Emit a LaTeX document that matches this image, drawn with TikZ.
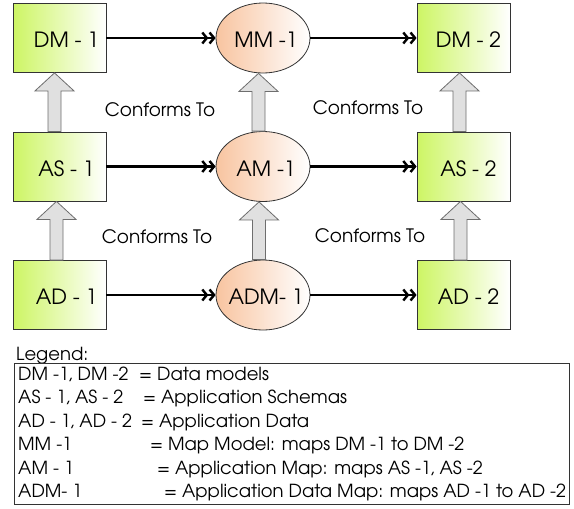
\documentclass[tikz,border=0pt]{standalone}
\usepackage{fontspec}
\setmainfont{texgyreadventor-regular.otf}
\usetikzlibrary{arrows.meta,shapes.geometric,calc}

\definecolor{boxgreen}{RGB}{205,245,100}
\definecolor{mappeach}{RGB}{248,196,160}
\definecolor{fatfill}{RGB}{224,224,224}
\definecolor{fatline}{RGB}{110,110,110}

\tikzset{
  model/.style={draw=black!80, line width=0.8pt, rectangle, minimum width=93pt, minimum height=69pt,
    left color=boxgreen, right color=white, inner sep=0pt},
  mapnode/.style={draw=black!80, line width=0.8pt, ellipse, minimum width=94pt, minimum height=70pt,
    left color=mappeach, right color=white, inner sep=0pt},
  lbl/.style={font=\fontsize{21}{24}\selectfont, inner sep=0pt},
  mapsto/.style={line width=2.4pt, -{Straight Barb[length=4.5pt,width=11pt,line width=2.4pt]Straight Barb[length=4.5pt,width=11pt,line width=2.4pt]}},
  fatarrow/.style={draw=fatline, fill=fatfill, line width=0.8pt, line join=miter},
  conf/.style={font=\fontsize{18.5}{21}\selectfont},
  legendtext/.style={anchor=base west, font=\fontsize{18}{21}\selectfont, inner sep=0pt},
}

% fat upward arrow from the top of #1 to the bottom of #2, shifted by #3
\newcommand\fatup[3]{%
  \path[fatarrow] let \p1=($(#1.north)+(#3,0)$), \p2=($(#2.south)+(#3,0)$) in
    (\x1-6.5pt,\y1) -- (\x1-6.5pt,\y2-18pt) -- (\x1-19.5pt,\y2-18pt) -- (\x1,\y2)
    -- (\x1+19.5pt,\y2-18pt) -- (\x1+6.5pt,\y2-18pt) -- (\x1+6.5pt,\y1) -- cycle;}

\begin{document}
\begin{tikzpicture}[x=1pt,y=-1pt]
\useasboundingbox (0,0) rectangle (574,509);

% model boxes and map ellipses
\node[model] (dm1) at (59.5,38) {};
\node[model] (as1) at (59.5,166.5) {};
\node[model] (ad1) at (59.5,295) {};
\node[model] (dm2) at (463.5,38) {};
\node[model] (as2) at (463.5,166.5) {};
\node[model] (ad2) at (463.5,295) {};
\node[mapnode] (mm) at (263,38) {};
\node[mapnode] (am) at (263,166.5) {};
\node[mapnode] (adm) at (263,295) {};

\node[lbl] at ($(dm1)+(7,2)$) {DM - 1};
\node[lbl] at ($(as1)+(7,2)$) {AS - 1};
\node[lbl] at ($(ad1)+(7,2)$) {AD - 1};
\node[lbl] at ($(dm2)+(5,2)$) {DM - 2};
\node[lbl] at ($(as2)+(5,2)$) {AS - 2};
\node[lbl] at ($(ad2)+(5,2)$) {AD - 2};
\node[lbl] at ($(mm)+(3,2)$) {MM -1};
\node[lbl] at ($(am)+(3,2)$) {AM -1};
\node[lbl] at ($(adm)+(3,2)$) {ADM- 1};

% mapping arrows
\draw[mapsto] (dm1.east) -- (mm.west);
\draw[mapsto] (mm.east) -- (dm2.west);
\draw[mapsto] (as1.east) -- (am.west);
\draw[mapsto] (am.east) -- (as2.west);
\draw[mapsto] (ad1.east) -- (adm.west);
\draw[mapsto] (adm.east) -- (ad2.west);

% conformance arrows
\fatup{as1}{dm1}{-5pt}
\fatup{ad1}{as1}{-3pt}
\fatup{am}{mm}{-4.5pt}
\fatup{adm}{am}{-4pt}
\fatup{as2}{dm2}{-4pt}
\fatup{ad2}{as2}{-3pt}

\node[conf] (c1) at (160,110) {Conforms To};
\node[conf] (c2) at (368,108) {Conforms To};
\node[conf] (c3) at (157,237) {Conforms To};
\node[conf] (c4) at (370,236) {Conforms To};

% legend
\node[legendtext] (lg) at (16,360) {Legend:};
\draw[black!80, line width=0.8pt] (14,363) rectangle (569,504);
\node[legendtext] at (18,380) {DM -1, DM -2};
\node[legendtext] at (18,403.5) {AS - 1, AS - 2};
\node[legendtext] at (18,427) {AD - 1, AD - 2};
\node[legendtext] at (18,450.5) {MM -1};
\node[legendtext] at (18,474) {AM - 1};
\node[legendtext] at (18,497.5) {ADM- 1};
\node[legendtext] at (139,380) {= Data models};
\node[legendtext] at (143,403.5) {= Application Schemas};
\node[legendtext] at (141,427) {= Application Data};
\node[legendtext] at (150,450.5) {= Map Model: maps DM -1 to DM -2};
\node[legendtext] at (157,474) {= Application Map: maps AS -1, AS -2};
\node[legendtext] at (164,497.5) {= Application Data Map: maps AD -1 to AD -2};
\end{tikzpicture}
\end{document}
